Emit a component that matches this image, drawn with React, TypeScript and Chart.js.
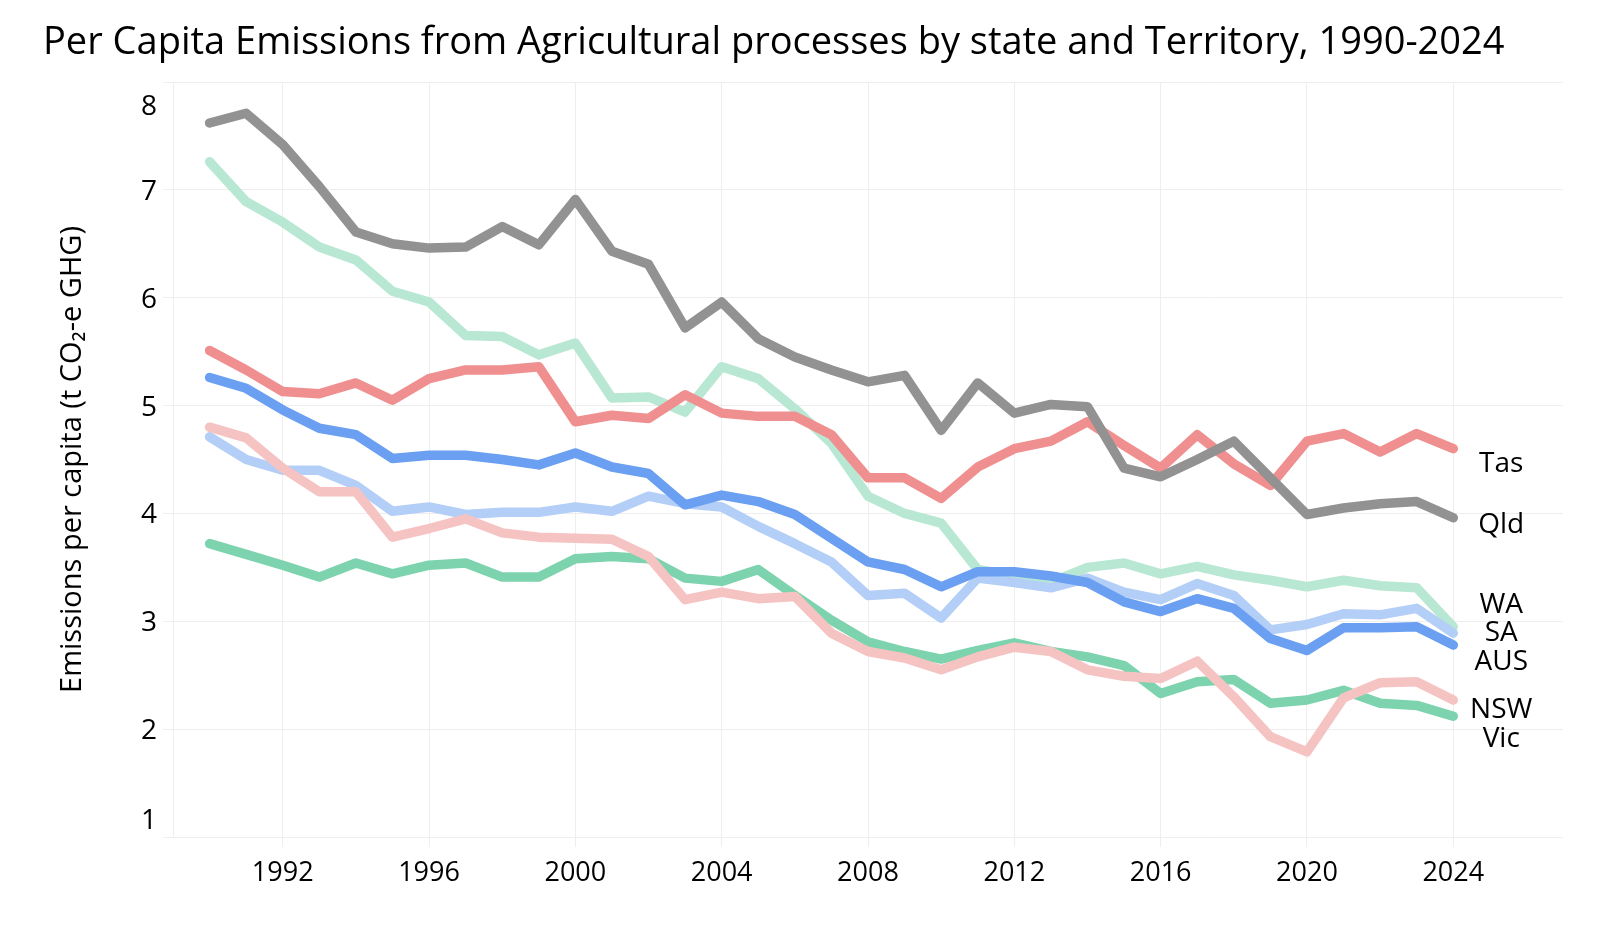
import React, { useEffect, useRef } from 'react';
import { Chart, registerables } from 'chart.js';

Chart.register(...registerables);

const years = [
  1990, 1991, 1992, 1993, 1994, 1995, 1996, 1997, 1998, 1999,
  2000, 2001, 2002, 2003, 2004, 2005, 2006, 2007, 2008, 2009,
  2010, 2011, 2012, 2013, 2014, 2015, 2016, 2017, 2018, 2019,
  2020, 2021, 2022, 2023, 2024,
];

const qld = [
  7.62, 7.71, 7.42, 7.03, 6.61, 6.5, 6.46, 6.47, 6.66, 6.49,
  6.91, 6.43, 6.31, 5.72, 5.96, 5.62, 5.45, 5.33, 5.22, 5.28,
  4.77, 5.21, 4.93, 5.01, 4.99, 4.42, 4.34, 4.5, 4.67, 4.33,
  3.99, 4.05, 4.09, 4.11, 3.96,
];
const tas = [
  5.51, 5.33, 5.13, 5.11, 5.21, 5.05, 5.25, 5.33, 5.33, 5.36,
  4.85, 4.91, 4.88, 5.1, 4.93, 4.9, 4.9, 4.73, 4.33, 4.33,
  4.14, 4.43, 4.6, 4.67, 4.85, 4.63, 4.42, 4.73, 4.46, 4.26,
  4.67, 4.74, 4.57, 4.74, 4.6,
];
const wa = [
  7.26, 6.89, 6.7, 6.47, 6.35, 6.06, 5.96, 5.65, 5.64, 5.47,
  5.58, 5.07, 5.08, 4.94, 5.36, 5.25, 4.97, 4.65, 4.16, 4.0,
  3.91, 3.48, 3.42, 3.36, 3.5, 3.54, 3.44, 3.51, 3.43, 3.38,
  3.32, 3.38, 3.33, 3.31, 2.95,
];
const aus = [
  5.26, 5.16, 4.96, 4.79, 4.73, 4.51, 4.54, 4.54, 4.5, 4.45,
  4.56, 4.43, 4.37, 4.08, 4.17, 4.11, 3.99, 3.77, 3.55, 3.48,
  3.32, 3.46, 3.46, 3.42, 3.36, 3.18, 3.09, 3.21, 3.12, 2.84,
  2.73, 2.94, 2.94, 2.95, 2.78,
];
const sa = [
  4.71, 4.5, 4.4, 4.4, 4.26, 4.02, 4.06, 3.99, 4.01, 4.01,
  4.06, 4.02, 4.16, 4.09, 4.06, 3.88, 3.72, 3.55, 3.24, 3.26,
  3.03, 3.4, 3.36, 3.31, 3.4, 3.27, 3.2, 3.35, 3.24, 2.92,
  2.97, 3.07, 3.06, 3.12, 2.89,
];
const nsw = [
  4.8, 4.7, 4.42, 4.2, 4.2, 3.78, 3.86, 3.95, 3.82, 3.78,
  3.77, 3.76, 3.6, 3.2, 3.27, 3.21, 3.23, 2.89, 2.72, 2.66,
  2.55, 2.67, 2.76, 2.72, 2.55, 2.49, 2.47, 2.63, 2.3, 1.93,
  1.79, 2.29, 2.43, 2.44, 2.27,
];
const vic = [
  3.72, 3.62, 3.52, 3.41, 3.54, 3.44, 3.52, 3.54, 3.41, 3.41,
  3.58, 3.6, 3.58, 3.4, 3.37, 3.48, 3.24, 3.01, 2.81, 2.72,
  2.65, 2.73, 2.8, 2.72, 2.67, 2.59, 2.33, 2.44, 2.46, 2.24,
  2.27, 2.36, 2.24, 2.22, 2.12,
];

const xTickYears = [1992, 1996, 2000, 2004, 2008, 2012, 2016, 2020, 2024];
const yTickValues = [1, 2, 3, 4, 5, 6, 7, 8];
const titleText = 'Per Capita Emissions from Agricultural processes by state and Territory, 1990-2024';
const yAxisTitle = 'Emissions per capita (t CO\u2082-e GHG)';

// drawn top-most first
const seriesNames = ['Qld', 'Tas', 'AUS', 'NSW', 'SA', 'Vic', 'WA'];
const seriesValues = [qld, tas, aus, nsw, sa, vic, wa];
const seriesColors = ['#929292', '#f08f8f', '#6a9ff1', '#f6c3c3', '#b3cef7', '#7dd3ae', '#b8e7d3'];
// label vertical nudges (px) relative to final point
const labelNudges = [5.6, 13, 15, 8.3, -2.4, 20.5, -23.4];

const FONT = '"Open Sans", "Noto Sans", sans-serif';

const labelPlugin = {
  id: 'customLabels',
  afterDraw(chart: any) {
    const { ctx, chartArea, scales } = chart;
    const xs = scales.x;
    const ys = scales.y;
    ctx.save();
    ctx.fillStyle = '#000';
    ctx.font = `28px ${FONT}`;
    // y tick labels with flush ends
    ctx.textAlign = 'right';
    ctx.textBaseline = 'alphabetic';
    const capHalf = 10;
    yTickValues.forEach((v) => {
      let py = ys.getPixelForValue(v);
      if (v === ys.max) py = chartArea.top + 23;
      else if (v === ys.min) py = chartArea.bottom - 18;
      ctx.fillText(String(v), chartArea.left - 16, py + capHalf);
    });
    // series end labels
    ctx.textAlign = 'center';
    const lastYear = years[years.length - 1];
    const lx = xs.getPixelForValue(lastYear) + 48;
    seriesNames.forEach((name, i) => {
      const vals = seriesValues[i];
      const py = ys.getPixelForValue(vals[vals.length - 1]) + labelNudges[i];
      ctx.fillText(name, lx, py + capHalf);
    });
    ctx.restore();
  },
};

export default function App() {
  const ref = useRef<HTMLCanvasElement>(null);
  useEffect(() => {
    const prev = document.body.style.margin;
    document.body.style.margin = '0';
    const canvas = ref.current!;
    const chart = new Chart(canvas, {
      type: 'line',
      data: {
        datasets: seriesNames.map((name, i) => ({
          label: name,
          data: years.map((yr, j) => ({ x: yr, y: seriesValues[i][j] })),
          borderColor: seriesColors[i],
          backgroundColor: seriesColors[i],
          borderWidth: 9.5,
          pointRadius: 0,
          pointHoverRadius: 0,
          borderCapStyle: 'round',
          borderJoinStyle: 'round',
          tension: 0,
          fill: false,
        })),
      },
      options: {
        responsive: false,
        animation: false,
        devicePixelRatio: 1,
        layout: { padding: { left: 43, right: 39, top: 0, bottom: 0 } },
        plugins: {
          legend: { display: false },
          tooltip: { enabled: false },
          title: {
            display: true,
            text: titleText,
            align: 'start',
            color: '#000',
            font: { family: FONT, size: 38, weight: 'normal', lineHeight: 1.2 },
            padding: { top: 20, bottom: 16.4 },
          },
        },
        scales: {
          x: {
            type: 'linear',
            min: 1989,
            max: 2027,
            afterBuildTicks: (s: any) => {
              s.ticks = xTickYears.map((v) => ({ value: v }));
            },
            afterFit: (s: any) => {
              s.height = 93;
            },
            grid: { color: '#eeeeee', lineWidth: 1, tickLength: 10, drawTicks: true },
            border: { display: false },
            ticks: {
              color: '#000',
              font: { family: FONT, size: 27 },
              padding: 10,
              maxRotation: 0,
              autoSkip: false,
              callback: (v: any) => String(v),
            },
          },
          y: {
            type: 'linear',
            min: 1,
            max: 8,
            afterBuildTicks: (s: any) => {
              s.ticks = yTickValues.map((v) => ({ value: v }));
            },
            afterFit: (s: any) => {
              s.width = 130;
            },
            grid: { color: '#eeeeee', lineWidth: 1, tickLength: 10, drawTicks: true },
            border: { display: true, color: '#eeeeee', width: 1 },
            ticks: { display: false },
            title: {
              display: true,
              text: yAxisTitle,
              color: '#000',
              font: { family: FONT, size: 29, weight: 'normal', lineHeight: 1.2 },
              padding: { top: 12, bottom: 0 },
            },
          },
        },
      } as any,
      plugins: [labelPlugin],
    });
    return () => {
      chart.destroy();
      document.body.style.margin = prev;
    };
  }, []);
  return (
    <div style={{ width: 1602, height: 930 }}>
      <canvas ref={ref} width={1602} height={930} style={{ display: 'block' }} />
    </div>
  );
}
